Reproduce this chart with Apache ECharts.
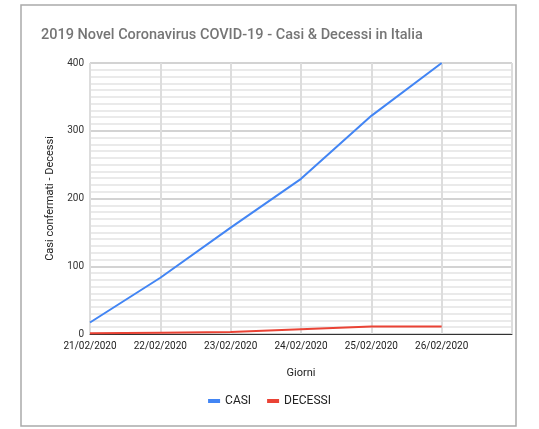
<!DOCTYPE html>
<html>
<head>
<meta charset="utf-8">
<script src="https://cdn.jsdelivr.net/npm/echarts@6/dist/echarts.min.js"></script>
<style>
  html, body { margin: 0; padding: 0; background: #fff; }
  #main { width: 539px; height: 429px; }
</style>
</head>
<body>
<div id="main"></div>
<script>
// giorni (l'ultima colonna resta vuota come nel grafico originale)
var giorni = ['21/02/2020', '22/02/2020', '23/02/2020', '24/02/2020', '25/02/2020', '26/02/2020', ''];
var casi = [17, 83, 157, 229, 322, 400];
var decessi = [1, 2, 3, 7, 11, 11];
var yTicks = [0, 100, 200, 300, 400];

(function () {
  var chart = echarts.init(document.getElementById('main'));
  var option = {
    backgroundColor: '#fff',
    textStyle: { fontFamily: 'Roboto' },
    // cornice esterna
    graphic: [{
      type: 'rect',
      shape: { x: 21, y: 5, width: 495, height: 421 },
      style: { fill: 'none', stroke: '#aaaaaa', lineWidth: 1.5 }
    }],
    title: {
      text: '2019 Novel Coronavirus COVID-19 - Casi & Decessi in Italia',
      left: 36,
      top: 23,
      textStyle: { fontSize: 14.5, fontWeight: 500, color: '#757575', fontFamily: 'Roboto' }
    },
    legend: {
      bottom: 17,
      left: 'center',
      itemWidth: 12,
      itemHeight: 4,
      itemGap: 16,
      icon: 'rect',
      textStyle: { fontSize: 12, color: '#222' },
      data: ['CASI', 'DECESSI']
    },
    grid: { left: 90, right: 27, top: 63, bottom: 95 },
    xAxis: {
      type: 'category',
      boundaryGap: false,
      data: giorni,
      name: 'Giorni',
      nameLocation: 'middle',
      nameGap: 34,
      nameTextStyle: { fontSize: 11, color: '#222' },
      axisLine: { lineStyle: { color: '#333', width: 1 } },
      axisTick: { show: false },
      axisLabel: { fontSize: 10, color: '#222', margin: 7, interval: 0 },
      splitLine: { show: true, lineStyle: { color: '#dddddd', width: 2 } }
    },
    yAxis: {
      type: 'value',
      min: yTicks[0],
      max: yTicks[yTicks.length - 1],
      interval: 100,
      name: 'Casi confermati - Decessi',
      nameLocation: 'middle',
      nameGap: 33,
      nameTextStyle: { fontSize: 11, color: '#222' },
      axisLine: { show: false },
      axisTick: { show: false },
      axisLabel: { fontSize: 10, color: '#333', margin: 6 },
      splitLine: { show: true, lineStyle: { color: '#c4c4c4', width: 1.5 } },
      minorTick: { show: true, splitNumber: 10, length: 0 },
      minorSplitLine: { show: true, lineStyle: { color: '#e3e3e3', width: 1.5 } }
    },
    series: [
      {
        name: 'CASI',
        type: 'line',
        data: casi,
        symbol: 'none',
        itemStyle: { color: '#4285f4' },
        lineStyle: { color: '#4285f4', width: 2 }
      },
      {
        name: 'DECESSI',
        type: 'line',
        data: decessi,
        symbol: 'none',
        itemStyle: { color: '#ea4335' },
        lineStyle: { color: '#ea4335', width: 2 }
      }
    ]
  };
  chart.setOption(option);
})();
</script>
</body>
</html>
